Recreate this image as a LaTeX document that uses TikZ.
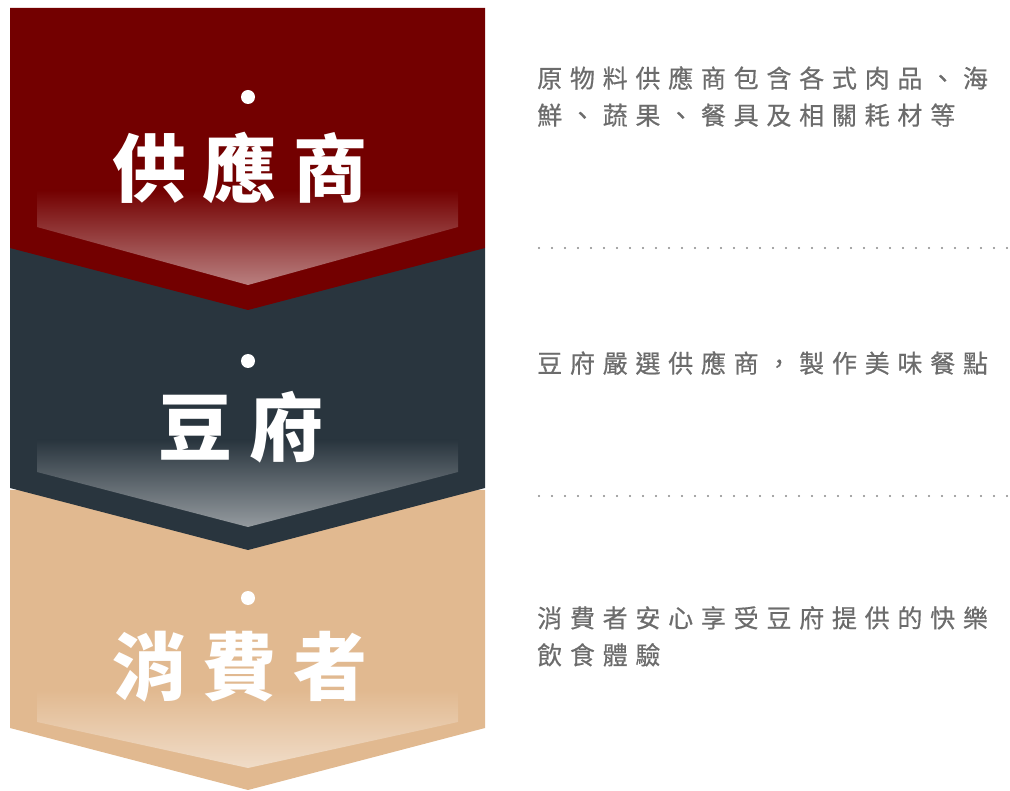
\documentclass[tikz,border=0pt]{standalone}
\usepackage{fontspec}
\usepackage{xcolor}
\newfontfamily\cjk{Noto Sans CJK TC}
\definecolor{supred}{RGB}{115,0,0}
\definecolor{tofugray}{RGB}{41,53,62}
\definecolor{consbeige}{RGB}{225,185,144}
\definecolor{desctext}{RGB}{108,108,108}
\usetikzlibrary{positioning}

\tikzset{
  glow/.style={top color=#1, middle color=#1!94!white, bottom color=#1!50!white, draw=none},
  stagetitle/.style={font=\cjk\bfseries\fontsize{74}{74}\selectfont, text=white, inner sep=0pt},
  stagedot/.style={circle, fill=white, minimum size=14pt, inner sep=0pt},
  desc/.style={font=\cjk\fontsize{25}{37}\selectfont\addfontfeatures{LetterSpace=31,FakeBold=0.6},
    text=desctext, align=left, anchor=north west, inner sep=0pt},
  dotline/.style={desctext!80, line width=2.4pt, dash pattern=on 0pt off 13pt, line cap=round},
}

\begin{document}
\begin{tikzpicture}[x=1pt,y=-1pt]
\useasboundingbox (0,0) rectangle (1010,791);

% chevrons, bottom one first
\fill[consbeige] (10,490) -- (485,490) -- (485,728) -- (248,790) -- (10,728) -- cycle;
\shade[glow=consbeige] (37,690) -- (458,690) -- (458,722) -- (248,768) -- (37,722) -- cycle;
\fill[tofugray] (10,248) -- (485,248) -- (485,488) -- (248,550) -- (10,488) -- cycle;
\shade[glow=tofugray] (37,440) -- (458,440) -- (458,472) -- (248,527) -- (37,472) -- cycle;
\fill[supred] (10,8) -- (485,8) -- (485,248) -- (248,310) -- (10,248) -- cycle;
\shade[glow=supred] (37,190) -- (458,190) -- (458,227) -- (248,285) -- (37,227) -- cycle;

% stage titles
\node[stagedot] (supplier-dot) at (248,97) {};
\node[stagetitle] (supplier) at (240,168) {供\hspace{17pt}應\hspace{17pt}商};

\node[stagedot] (tofu-dot) at (248,361) {};
\node[stagetitle] (tofu) at (241,427) {豆\hspace{17pt}府};

\node[stagedot] (consumer-dot) at (248,598) {};
\node[stagetitle] (consumer) at (240,667) {消\hspace{17pt}費\hspace{17pt}者};

% descriptions
\node[desc] (supplier-desc) at (537,66) {原物料供應商包含各式肉品、海\\鮮、蔬果、餐具及相關耗材等};
\node[desc] (tofu-desc) at (537,351) {豆府嚴選供應商，製作美味餐點};
\node[desc] (consumer-desc) at (537,606) {消費者安心享受豆府提供的快樂\\飲食體驗};

% separators
\coordinate (sepA-l) at (539,248);
\coordinate (sepA-r) at (1010,248);
\coordinate (sepB-l) at (539,496);
\coordinate (sepB-r) at (1010,496);
\draw[dotline] (sepA-l) -- (sepA-r);
\draw[dotline] (sepB-l) -- (sepB-r);
\end{tikzpicture}
\end{document}
